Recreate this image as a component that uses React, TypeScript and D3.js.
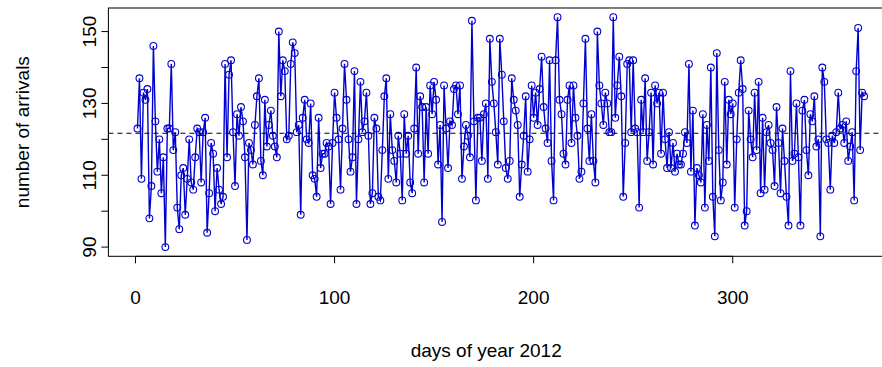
import React from "react";
import * as d3 from "d3";

// Daily number of arrivals, 2012 (day 1 .. 366)
const arrivals: number[] = [
  // days 1-29
  123, 137, 109, 133, 131, 134, 98, 107, 146, 125, 111, 120, 105, 115, 90, 123, 123, 141, 117, 122,
  101, 95, 110, 112, 99, 109, 120, 108, 106,
  // days 30-59
  115, 123, 122, 108, 122, 126, 94, 105, 119, 116, 100, 112, 106, 102, 104, 141, 115, 138, 142, 122,
  107, 127, 121, 129, 125, 115, 92, 119, 117, 113,
  // days 60-91
  124, 132, 137, 114, 110, 131, 118, 124, 128, 121, 118, 115, 150, 132, 142, 139, 120, 121, 141, 147,
  144, 122, 124, 99, 126, 131, 120, 119, 130, 110, 109, 104,
  // days 92-121
  126, 112, 116, 116, 119, 118, 102, 119, 133, 126, 120, 106, 123, 141, 131, 120, 111, 115, 139, 102,
  120, 136, 122, 125, 133, 121, 102, 105, 126, 123,
  // days 122-154
  104, 103, 117, 132, 137, 109, 127, 117, 114, 108, 121, 116, 103, 127, 116, 121, 108, 105, 123, 140,
  116, 132, 129, 108, 129, 116, 135, 127, 136, 131, 113, 124, 97,
  // days 155-184
  135, 123, 112, 125, 124, 134, 135, 127, 135, 109, 118, 124, 121, 115, 153, 125, 103, 126, 126, 114,
  127, 130, 109, 148, 136, 130, 122, 113, 148, 138,
  // days 185-215
  125, 112, 109, 114, 137, 131, 128, 124, 104, 113, 121, 132, 111, 120, 135, 126, 133, 124, 134, 143,
  129, 123, 119, 142, 114, 103, 142, 154, 131, 127, 116,
  // days 216-246
  113, 131, 135, 119, 135, 126, 121, 109, 111, 130, 148, 123, 114, 127, 114, 108, 150, 135, 130, 124,
  133, 130, 122, 122, 154, 126, 135, 143, 132, 104, 119,
  // days 247-278
  141, 142, 122, 142, 123, 122, 101, 131, 122, 137, 114, 122, 133, 113, 135, 130, 133, 116, 133, 120,
  112, 122, 112, 119, 111, 116, 113, 113, 116, 122, 119, 141,
  // days 279-308
  111, 128, 96, 112, 110, 108, 127, 101, 124, 114, 140, 104, 93, 144, 117, 103, 108, 136, 113, 131,
  127, 130, 101, 120, 133, 142, 134, 96, 100, 128,
  // days 309-339
  120, 115, 133, 117, 136, 105, 126, 106, 122, 124, 119, 117, 107, 129, 119, 105, 123, 114, 104, 96,
  139, 114, 116, 130, 115, 96, 128, 131, 117, 110, 127,
  // days 340-366
  125, 132, 118, 120, 93, 140, 136, 120, 119, 106, 121, 119, 122, 133, 123, 124, 119, 125, 114, 118,
  122, 103, 139, 151, 117, 133, 132,
];

const xTicks: number[] = [0, 100, 200, 300];
const yTicks: number[] = [90, 100, 110, 120, 130, 140, 150];
const yTickLabels: number[] = [90, 110, 130, 150];
const meanLevel = 121.7;
const xTitle = "days of year 2012";
const yTitle = "number of arrivals";

export default function App() {
  const W = 882;
  const H = 367;
  const font = "'Liberation Sans', Arial, sans-serif";
  const fs = 19;
  const blue = "#0000d0";

  const days = arrivals.map((_, i) => i + 1);
  const x = d3.scaleLinear().domain([-13.6, 380.6]).range([108.4, 893.2]);
  const y = d3.scaleLinear().domain([87.44, 156.56]).range([256.3, 8]);
  const [x0, x1] = x.range();
  const [yb, yt] = y.range();

  const linePath =
    d3
      .line<number>()
      .x((_, i) => x(days[i]))
      .y((d) => y(d))(arrivals) || "";

  return (
    <svg
      width={W}
      height={H}
      style={{ position: "absolute", left: 0, top: 0, background: "#fff" }}
      fontFamily={font}
    >
      <rect x={0} y={0} width={W} height={H} fill="#fff" />
      {/* series line */}
      <path d={linePath} fill="none" stroke={blue} strokeWidth={1.4} />
      {/* points */}
      {arrivals.map((v, i) => (
        <circle
          key={i}
          cx={x(days[i])}
          cy={y(v)}
          r={3.4}
          fill="none"
          stroke={blue}
          strokeWidth={1.1}
        />
      ))}
      {/* mean dashed line */}
      <line
        x1={x0}
        x2={x1}
        y1={y(meanLevel)}
        y2={y(meanLevel)}
        stroke="#000"
        strokeWidth={1.2}
        strokeDasharray="5,4"
      />
      {/* box */}
      <rect
        x={x0}
        y={yt}
        width={x1 - x0}
        height={yb - yt}
        fill="none"
        stroke="#000"
        strokeWidth={1}
      />
      {/* x axis */}
      <line x1={x(xTicks[0])} x2={x(xTicks[xTicks.length - 1])} y1={yb} y2={yb} stroke="#000" />
      {xTicks.map((t) => (
        <g key={t}>
          <line x1={x(t)} x2={x(t)} y1={yb} y2={yb + 7} stroke="#000" />
          <text x={x(t)} y={304} fontSize={fs} textAnchor="middle" fill="#000">
            {t}
          </text>
        </g>
      ))}
      {/* y axis */}
      <line x1={x0} x2={x0} y1={y(yTicks[0])} y2={y(yTicks[yTicks.length - 1])} stroke="#000" />
      {yTicks.map((t) => (
        <line key={t} x1={x0 - 7} x2={x0} y1={y(t)} y2={y(t)} stroke="#000" />
      ))}
      {yTickLabels.map((t) => (
        <text
          key={t}
          transform={`translate(96,${y(t)}) rotate(-90)`}
          fontSize={fs}
          textAnchor="middle"
          fill="#000"
        >
          {t}
        </text>
      ))}
      {/* titles */}
      <text x={(x0 + 864) / 2} y={357} fontSize={fs} textAnchor="middle" fill="#000">
        {xTitle}
      </text>
      <text
        transform={`translate(29,${(yt + yb) / 2}) rotate(-90)`}
        fontSize={fs}
        textAnchor="middle"
        fill="#000"
      >
        {yTitle}
      </text>
    </svg>
  );
}
